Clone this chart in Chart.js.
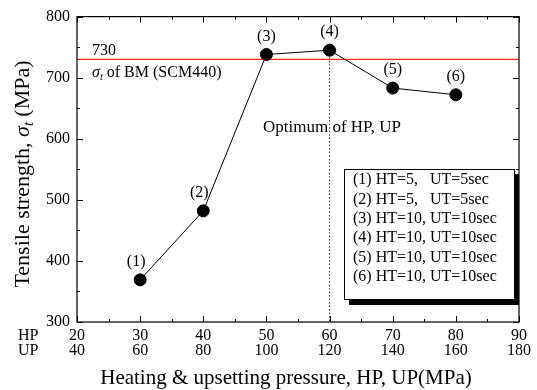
<!DOCTYPE html>
<html>
<head>
<meta charset="utf-8">
<script src="https://cdn.jsdelivr.net/npm/chart.js@4.4.1/dist/chart.umd.min.js"></script>
<style>
   html, body { margin: 0; padding: 0; background: #fff; }
</style>
</head>
<body>
<canvas id="myChart" width="537" height="390"></canvas>
<script>
// ============  data  ============
const hpValues = [30, 40, 50, 60, 70, 80];
const strengthValues = [369, 482, 738, 745, 683, 672];
const pointNames = ['(1)', '(2)', '(3)', '(4)', '(5)', '(6)'];
const hpTicks = [20, 30, 40, 50, 60, 70, 80, 90];
const upTicks = [40, 60, 80, 100, 120, 140, 160, 180];
const yTicks = [300, 400, 500, 600, 700, 800];
const bmStrength = 730;
const optimumHP = 60;
const htValues = [5, 5, 10, 10, 10, 10];
const utValues = [5, 5, 10, 10, 10, 10];

const FONT = "'Liberation Serif', 'Times New Roman', serif";

// text with italic / subscript parts
function richWidth(ctx, parts, size) {
   let w = 0;
   parts.forEach(p => {
      ctx.font = (p.italic ? 'italic ' : '') + (p.sub ? size * 0.65 : size) + 'px ' + FONT;
      w += ctx.measureText(p.t).width;
   });
   return w;
}
function drawRich(ctx, parts, x, y, size) {
   parts.forEach(p => {
      ctx.font = (p.italic ? 'italic ' : '') + (p.sub ? size * 0.65 : size) + 'px ' + FONT;
      ctx.fillText(p.t, x, p.sub ? y + size * 0.28 : y);
      x += ctx.measureText(p.t).width;
   });
}

const decorPlugin = {
   id: 'decor',
   afterDraw(chart) {
      const c = chart.ctx;
      const a = chart.chartArea;
      const xs = chart.scales.x;
      const ys = chart.scales.y;
      c.save();
      c.strokeStyle = '#000';
      c.fillStyle = '#000';
      c.lineWidth = 1.2;
      c.strokeRect(a.left, a.top, a.right - a.left, a.bottom - a.top);

      // inward ticks, all four sides
      c.lineWidth = 1;
      c.beginPath();
      for (let v = hpTicks[0]; v <= hpTicks[hpTicks.length - 1]; v += 5) {
         const px = Math.round(xs.getPixelForValue(v)) + 0.5;
         const len = v % 10 === 0 ? 6 : 3;
         c.moveTo(px, a.bottom); c.lineTo(px, a.bottom - len);
         c.moveTo(px, a.top); c.lineTo(px, a.top + len);
      }
      for (let v = yTicks[0]; v <= yTicks[yTicks.length - 1]; v += 50) {
         const py = Math.round(ys.getPixelForValue(v)) + 0.5;
         const len = v % 100 === 0 ? 6 : 3;
         c.moveTo(a.left, py); c.lineTo(a.left + len, py);
         c.moveTo(a.right, py); c.lineTo(a.right - len, py);
      }
      c.stroke();

      // point names
      c.font = '16px ' + FONT;
      c.textAlign = 'center';
      c.textBaseline = 'middle';
      hpValues.forEach((hp, i) => {
         const px = xs.getPixelForValue(hp);
         const py = ys.getPixelForValue(strengthValues[i]);
         c.fillText(pointNames[i], px - (i < 2 ? 4 : 0), py - 18);
      });

      // base metal annotation
      c.textAlign = 'left';
      c.fillText(String(bmStrength), 92, ys.getPixelForValue(bmStrength) - 9);
      drawRich(c, [
         { t: 'σ', italic: true },
         { t: 't', italic: true, sub: true },
         { t: ' of BM (SCM440)' },
      ], 92, ys.getPixelForValue(bmStrength) + 13, 16);

      c.font = '17px ' + FONT;
      c.fillText('Optimum of HP, UP', 263, 128);

      // HP / UP row names
      c.font = '16px ' + FONT;
      c.fillText('HP', 18, 336);
      c.fillText('UP', 18, 351);

      // axis titles
      const xTitle = 'Heating & upsetting pressure, HP, UP(MPa)';
      c.font = '21px ' + FONT;
      c.textAlign = 'center';
      c.fillText(xTitle, 286, 378);
      c.textAlign = 'left';

      const yParts = [
         { t: 'Tensile strength, ' },
         { t: 'σ', italic: true },
         { t: 't', italic: true, sub: true },
         { t: ' (MPa)' },
      ];
      const yw = richWidth(c, yParts, 22);
      c.save();
      c.translate(23, 174);
      c.rotate(-Math.PI / 2);
      drawRich(c, yParts, -yw / 2, 0, 22);
      c.restore();

      // legend box with shadow
      const bx = 344, by = 169, bw = 170, bh = 130;
      c.fillRect(bx + 5, by + 5, bw, bh + 1);
      c.fillStyle = '#fff';
      c.fillRect(bx, by, bw, bh);
      c.strokeRect(bx + 0.5, by + 0.5, bw, bh);
      c.fillStyle = '#000';
      c.font = '16px ' + FONT;
      c.textBaseline = 'middle';
      htValues.forEach((ht, i) => {
         const ly = 180 + i * 19.4;
         c.fillText(pointNames[i] + ' HT=' + ht + ',', 353, ly);
         c.fillText('UT=' + utValues[i] + 'sec', 430, ly);
      });
      c.restore();
   }
};

let ctx = document.getElementById('myChart').getContext('2d');
let myChart = new Chart(ctx, {
   type: 'scatter',
   data: {
      datasets: [{
         label: 'Tensile strength',
         data: hpValues.map((hp, i) => ({ x: hp, y: strengthValues[i] })),
         showLine: true,
         borderColor: '#000',
         borderWidth: 1,
         pointRadius: 6,
         pointBackgroundColor: '#000',
         pointBorderColor: '#000',
      }, {
         label: 'BM',
         data: [{ x: hpTicks[0], y: bmStrength }, { x: hpTicks[hpTicks.length - 1], y: bmStrength }],
         showLine: true,
         borderColor: '#ff2626',
         borderWidth: 1.2,
         pointRadius: 0,
      }, {
         label: 'Optimum',
         data: [{ x: optimumHP, y: strengthValues[hpValues.indexOf(optimumHP)] }, { x: optimumHP, y: yTicks[0] }],
         showLine: true,
         borderColor: '#333',
         borderWidth: 1,
         borderDash: [1.5, 2],
         pointRadius: 0,
      }],
   },
   options: {
      responsive: false,
      animation: false,
      devicePixelRatio: 1,
      layout: { padding: { left: 0, top: 16, right: 16, bottom: 0 } },
      scales: {
         x: {
            type: 'linear',
            min: hpTicks[0],
            max: hpTicks[hpTicks.length - 1],
            afterFit: (s) => { s.height = 68; },
            afterBuildTicks: (s) => { s.ticks = hpTicks.map(v => ({ value: v })); },
            grid: { display: false, drawTicks: false },
            border: { display: false },
            ticks: {
               padding: 6,
               color: '#000',
               font: { family: FONT, size: 16, lineHeight: 0.95 },
               callback: (v, i) => [String(v), String(upTicks[i])],
            },
         },
         y: {
            min: yTicks[0],
            max: yTicks[yTicks.length - 1],
            afterFit: (s) => { s.width = 77; },
            afterBuildTicks: (s) => { s.ticks = yTicks.map(v => ({ value: v })); },
            grid: { display: false, drawTicks: false },
            border: { display: false },
            ticks: {
               padding: 7,
               color: '#000',
               font: { family: FONT, size: 16 },
            },
         },
      },
      plugins: {
         legend: { display: false },
         tooltip: { enabled: false },
      },
   },
   plugins: [decorPlugin],
});
</script>
</body>
</html>
